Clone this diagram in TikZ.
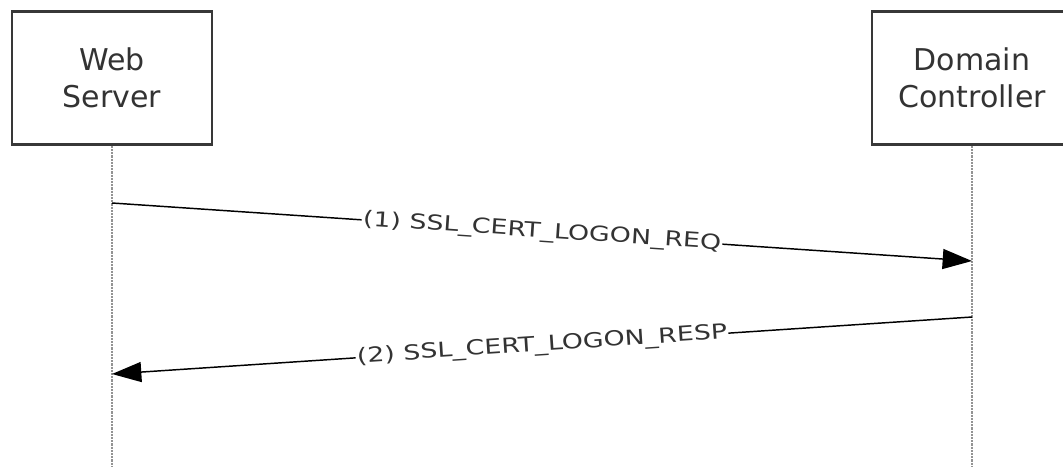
\documentclass[tikz,border=0pt]{standalone}
\usepackage{fontspec}
\setmainfont{DejaVu Sans}
\newfontfamily\msgfont[FakeStretch=1.3]{DejaVu Sans}
\usetikzlibrary{arrows.meta,positioning}
\tikzset{>={Triangle[length=22pt,width=15pt]}}
\definecolor{boxgray}{rgb}{0.22,0.22,0.22}
\definecolor{textgray}{rgb}{0.2,0.2,0.2}
\tikzset{
  actor/.style={draw=boxgray, line width=1.8pt, minimum width=150pt, minimum height=100pt,
    align=center, text=textgray, font=\fontsize{22.5}{27.75}\selectfont},
  lifeline/.style={draw=gray!85, line width=2pt, dash pattern=on 1.6pt off 0.8pt},
  msg/.style={->, line width=1.1pt, black},
  msglabel/.style={sloped, fill=white, inner sep=1pt, text=textgray, font=\msgfont\fontsize{15.5}{18}\selectfont}
}

\begin{document}
\begin{tikzpicture}[x=0.75pt, y=-0.75pt]
      \useasboundingbox (0,0) rectangle (1063,467);
      \def\ybot{467}  % bottom of lifelines
      \node[actor] (web) at (112,78) {Web\\Server};
      \node[actor] (dc) at (972,78) {Domain\\Controller};
      %
      \coordinate (webend) at (112,\ybot);
      \coordinate (dcend) at (972,\ybot);
      \draw[lifeline] (web.south) -- (webend);
      \draw[lifeline] (dc.south) -- (dcend);
      %
      \coordinate (req1) at (112,203);
      \coordinate (req2) at (972,261);
      \coordinate (resp1) at (972,317);
      \coordinate (resp2) at (112,374);
      \draw[msg] (req1) -- (req2) node[msglabel,midway]{(1) SSL\_CERT\_LOGON\_REQ};
      \draw[msg] (resp1) -- (resp2) node[msglabel,midway]{(2) SSL\_CERT\_LOGON\_RESP};
    \end{tikzpicture}
\end{document}
